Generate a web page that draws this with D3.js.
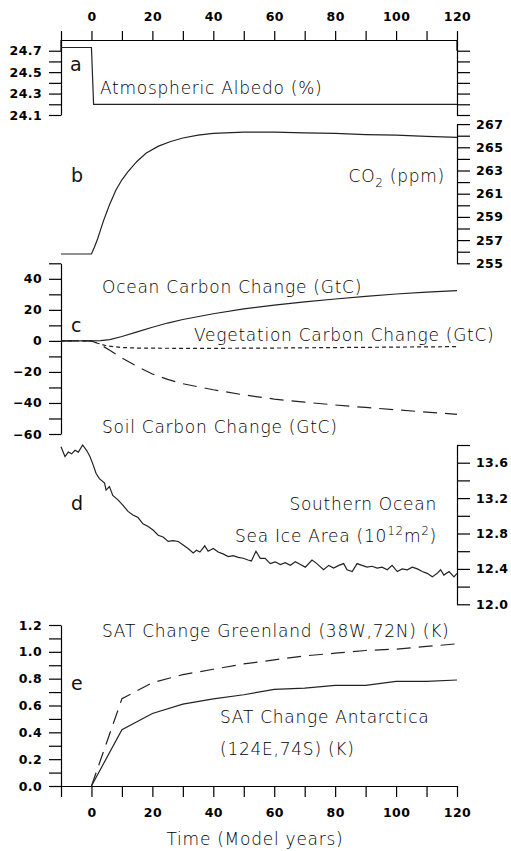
<!DOCTYPE html>
<html>
<head>
<meta charset="utf-8">
<script src="https://cdn.jsdelivr.net/npm/d3@7"></script>
<style>
  body { margin: 0; background: #fff; }
  svg { display: block; }
  .tick text { font-family: "DejaVu Sans", sans-serif; font-weight: bold; font-size: 12.5px; letter-spacing: 0.4px; fill: #000; }
  .lbl { font-family: "DejaVu Sans", sans-serif; font-weight: 200; font-size: 17px; letter-spacing: 0.75px; fill: #000; }
  .panel { font-family: "DejaVu Sans", sans-serif; font-size: 19px; fill: #111; }
</style>
</head>
<body>
<script>
// ---- data ----
// (a) atmospheric albedo, %
const albedoYears = [-10, 0, 0.7, 120];
const albedoValues = [24.73, 24.73, 24.2, 24.2];

// (b) atmospheric CO2, ppm
const co2Years = [-10, 0, 1, 2, 3, 4, 5, 6, 8, 10, 12, 15, 18, 22, 26, 30, 35, 40, 50, 60, 70, 80, 90, 100, 110, 120];
const co2Values = [255.8, 255.8, 256.4, 257.1, 257.9, 258.7, 259.4, 260.1, 261.3, 262.2, 262.9, 263.8, 264.5, 265.1, 265.5, 265.8, 266.05, 266.2, 266.3, 266.3, 266.25, 266.2, 266.1, 266.05, 265.95, 265.85];

// (c) carbon reservoir changes, GtC
const oceanYears = [-10, 0, 3, 6, 10, 15, 20, 25, 30, 40, 50, 60, 70, 80, 90, 100, 110, 120];
const oceanValues = [0, 0, 0.2, 0.8, 2.8, 5.8, 8.8, 11.5, 13.8, 17.5, 20.6, 23.0, 25.2, 27.0, 28.7, 30.2, 31.4, 32.4];
const vegYears = [-10, 0, 2, 5, 10, 15, 20, 30, 40, 60, 80, 100, 120];
const vegValues = [0, 0, -1.5, -3.2, -4.3, -4.6, -4.7, -4.8, -4.8, -4.6, -4.3, -4.0, -3.7];
const soilYears = [-10, 0, 3, 6, 10, 15, 20, 25, 30, 40, 50, 60, 70, 80, 90, 100, 110, 120];
const soilValues = [0, 0, -2.5, -6, -11, -16.5, -21.3, -24.8, -27.6, -31.5, -34.8, -37.5, -39.5, -41.3, -42.9, -44.4, -45.9, -47.3];

// (d) Southern Ocean sea ice area, 10^12 m^2
const iceYears = [-10, -8.7, -7.6, -6.5, -5.4, -4.3, -2.9, -1.6, -0.5, 0.4, 1.5, 2.6, 4.3, 4.8, 5.9, 7, 8.7, 10.3, 12, 13.6,
  15.3, 16.9, 18.6, 20.2, 21.9, 23.5, 25.2, 26.8, 28.5, 30.1, 31.7, 33.4, 34.5, 35.6, 37.2, 38.3, 40, 41.6, 43.2, 44.9,
  46.5, 48.2, 49.8, 51.4, 52.5, 54, 55.4, 57, 58.7, 60.3, 62, 63.6, 65.3, 66.9, 68.6, 70.2, 72.4, 74, 76.2, 77.9,
  79.5, 81.2, 82.8, 83.9, 85.6, 87.2, 88.8, 90.5, 92.1, 93.8, 95.4, 97.1, 98.7, 100.4, 102, 103.7, 105.3, 107, 108.6, 110.2,
  111.9, 113.5, 114.6, 115.7, 117.4, 119, 120];
const iceArea = [13.78, 13.67, 13.72, 13.70, 13.74, 13.72, 13.80, 13.74, 13.67, 13.59, 13.48, 13.42, 13.37, 13.29, 13.33, 13.23, 13.18, 13.12, 13.05, 13.01,
  12.98, 12.91, 12.88, 12.84, 12.78, 12.76, 12.71, 12.72, 12.71, 12.67, 12.63, 12.58, 12.61, 12.59, 12.66, 12.60, 12.63, 12.59, 12.57, 12.54,
  12.55, 12.53, 12.52, 12.50, 12.49, 12.60, 12.52, 12.52, 12.46, 12.48, 12.45, 12.47, 12.44, 12.48, 12.45, 12.42, 12.50, 12.46, 12.39, 12.44,
  12.41, 12.44, 12.46, 12.39, 12.37, 12.46, 12.44, 12.42, 12.43, 12.41, 12.42, 12.39, 12.44, 12.37, 12.40, 12.39, 12.42, 12.40, 12.37, 12.35,
  12.31, 12.35, 12.39, 12.33, 12.37, 12.31, 12.35];

// (e) surface air temperature change, K
const satYears = [0, 10, 20, 30, 40, 50, 60, 70, 80, 90, 100, 110, 120];
const satAntarctica = [0, 0.42, 0.54, 0.61, 0.65, 0.68, 0.72, 0.73, 0.75, 0.75, 0.78, 0.78, 0.79];
const satGreenland = [0, 0.65, 0.77, 0.83, 0.87, 0.91, 0.94, 0.97, 0.99, 1.01, 1.02, 1.04, 1.06];

// axis tick labels
const timeTickLabels = [0, 20, 40, 60, 80, 100, 120];
const albedoTickLabels = [24.1, 24.3, 24.5, 24.7];
const co2TickLabels = [255, 257, 259, 261, 263, 265, 267];
const carbonTickLabels = [-60, -40, -20, 0, 20, 40];
const iceTickLabels = [12.0, 12.4, 12.8, 13.2, 13.6];
const satTickLabels = [0.0, 0.2, 0.4, 0.6, 0.8, 1.0, 1.2];

// ---- layout ----
const W = 511, H = 851;
const xL = 61, xR = 457;
const svg = d3.select("body").append("svg").attr("width", W).attr("height", H);

const x = d3.scaleLinear().domain([-10, 120]).range([xL, xR]);
const yA = d3.scaleLinear().domain([24.1, 24.8]).range([115, 40]);
const yB = d3.scaleLinear().domain([255, 267]).range([263.3, 124.1]);
const yC = d3.scaleLinear().domain([-60, 50]).range([434, 263.3]);
const yD = d3.scaleLinear().domain([12.0, 13.8]).range([604.3, 445]);
const yE = d3.scaleLinear().domain([0, 1.2]).range([786, 625]);

const steps = (a, b, s) => d3.range(Math.round((b - a) / s) + 1).map(i => +(a + i * s).toFixed(2));
const has = (arr, v) => arr.some(t => Math.abs(t - v) < 1e-6);
const minus = s => s.replace("-", "\u2212");

function styleAxis(g) {
  g.selectAll("path.domain").attr("stroke", "#000").attr("stroke-width", 1.2);
  g.selectAll(".tick line").attr("stroke", "#000").attr("stroke-width", 1.2);
  g.attr("font-family", null).attr("font-size", null);
}

// top time axis
const topAxis = svg.append("g").attr("transform", `translate(0,40)`)
  .call(d3.axisTop(x).tickValues(steps(-10, 120, 10)).tickSize(9).tickSizeOuter(0).tickPadding(10)
    .tickFormat(d => has(timeTickLabels, d) ? d3.format("d")(d) : ""));
styleAxis(topAxis);

// bottom time axis
const botAxis = svg.append("g").attr("transform", `translate(0,786)`)
  .call(d3.axisBottom(x).tickValues(steps(-10, 120, 10)).tickSize(11).tickSizeOuter(0).tickPadding(11)
    .tickFormat(d => has(timeTickLabels, d) ? d3.format("d")(d) : ""));
styleAxis(botAxis);

// left/right value axes
function leftAxis(scale, vals, labels, fmt) {
  const g = svg.append("g").attr("transform", `translate(${xL},0)`)
    .call(d3.axisLeft(scale).tickValues(vals).tickSize(12).tickSizeOuter(0).tickPadding(7)
      .tickFormat(d => has(labels, d) ? minus(fmt(d)) : ""));
  styleAxis(g);
  return g;
}
function rightAxis(scale, vals, labels, fmt) {
  const g = svg.append("g").attr("transform", `translate(${xR},0)`)
    .call(d3.axisRight(scale).tickValues(vals).tickSize(13).tickSizeOuter(0).tickPadding(6)
      .tickFormat(d => has(labels, d) ? fmt(d) : ""));
  styleAxis(g);
  return g;
}

// panel a: albedo axes (domain line reaches the top frame)
leftAxis(yA, steps(24.1, 24.7, 0.1), albedoTickLabels, d3.format(".1f"));
rightAxis(yA, steps(24.1, 24.7, 0.1), [], d3.format(".1f"));
[xL, xR].forEach(px => svg.append("line").attr("x1", px).attr("x2", px).attr("y1", 40).attr("y2", yA(24.7))
  .attr("stroke", "#000").attr("stroke-width", 1.2));

// panel b: CO2 on the right
rightAxis(yB, steps(255, 267, 1), co2TickLabels, d3.format("d"));
// panel c: carbon changes on the left
leftAxis(yC, steps(-60, 50, 10), carbonTickLabels, d3.format("d"));
// panel d: sea ice on the right
rightAxis(yD, steps(12.0, 13.8, 0.2), iceTickLabels, d3.format(".1f"));
// panel e: SAT on the left
leftAxis(yE, steps(0, 1.2, 0.1), satTickLabels, d3.format(".1f"));

// ---- series ----
function series(xs, ys, yScale, dash) {
  const pts = xs.map((v, i) => [v, ys[i]]);
  svg.append("path").datum(pts)
    .attr("d", d3.line().x(d => x(d[0])).y(d => yScale(d[1])))
    .attr("fill", "none").attr("stroke", "#222").attr("stroke-width", 1.2)
    .attr("stroke-dasharray", dash || null);
}
series(albedoYears, albedoValues, yA);
series(co2Years, co2Values, yB);
series(oceanYears, oceanValues, yC);
series(vegYears, vegValues, yC, "4,3");
series(soilYears, soilValues, yC, "14,8");
series(iceYears, iceArea, yD);
series(satYears, satAntarctica, yE);
series(satYears, satGreenland, yE, "14,8");

// ---- text ----
function label(tx, ty, str, anchor) {
  return svg.append("text").attr("class", "lbl").attr("x", tx).attr("y", ty)
    .attr("text-anchor", anchor || "start").text(str);
}
function panelLetter(tx, ty, s) {
  svg.append("text").attr("class", "panel").attr("x", tx).attr("y", ty).text(s);
}
panelLetter(70, 71, "a");
panelLetter(71, 182, "b");
panelLetter(71, 332, "c");
panelLetter(71, 510, "d");
panelLetter(71, 690, "e");

label(100, 94, "Atmospheric Albedo (%)");

const co2 = svg.append("text").attr("class", "lbl").attr("x", 445).attr("y", 182).attr("text-anchor", "end");
co2.append("tspan").text("CO");
co2.append("tspan").attr("font-size", "12px").attr("dy", 5).text("2");
co2.append("tspan").attr("dy", -5).text(" (ppm)");

label(102, 293, "Ocean Carbon Change (GtC)");
label(194, 341, "Vegetation Carbon Change (GtC)");
label(102, 433, "Soil Carbon Change (GtC)");

label(437, 510, "Southern Ocean", "end");
const ice = svg.append("text").attr("class", "lbl").attr("x", 437).attr("y", 542).attr("text-anchor", "end");
ice.append("tspan").text("Sea Ice Area (10");
ice.append("tspan").attr("font-size", "12px").attr("dy", -7).text("12");
ice.append("tspan").attr("dy", 7).text("m");
ice.append("tspan").attr("font-size", "12px").attr("dy", -7).text("2");
ice.append("tspan").attr("dy", 7).text(")");

label(102, 637, "SAT Change Greenland (38W,72N) (K)");
label(220, 723, "SAT Change Antarctica");
label(220, 755, "(124E,74S) (K)");

label(255, 845, "Time (Model years)", "middle");
</script>
</body>
</html>
